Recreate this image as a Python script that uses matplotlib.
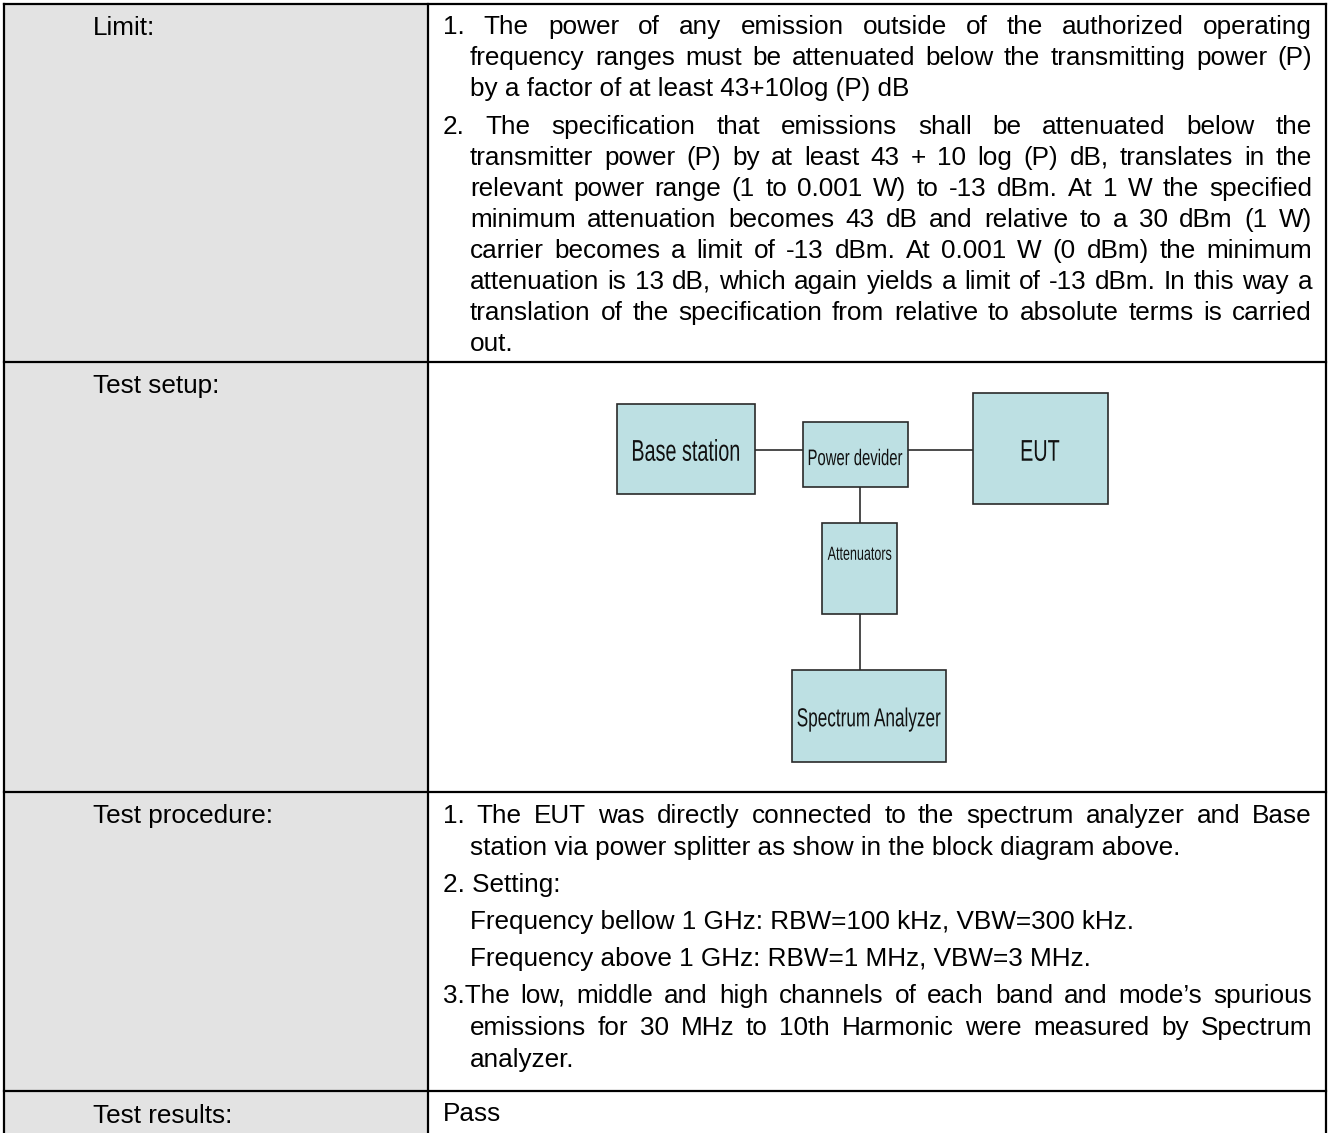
import matplotlib
matplotlib.use('Agg')
from matplotlib import pyplot
from matplotlib.patches import Rectangle, PathPatch
from matplotlib.textpath import TextPath
from matplotlib.font_manager import FontProperties
from matplotlib.transforms import Affine2D

# table content
row_labels = ['Limit:', 'Test setup:', 'Test procedure:', 'Test results:']

limit_paragraphs = [
    [
        '1. The power of any emission outside of the authorized operating',
        'frequency ranges must be attenuated below the transmitting power (P)',
        'by a factor of at least 43+10log (P) dB',
    ],
    [
        '2. The specification that emissions shall be attenuated below the',
        'transmitter power (P) by at least 43 + 10 log (P) dB, translates in the',
        'relevant power range (1 to 0.001 W) to -13 dBm. At 1 W the specified',
        'minimum attenuation becomes 43 dB and relative to a 30 dBm (1 W)',
        'carrier becomes a limit of -13 dBm. At 0.001 W (0 dBm) the minimum',
        'attenuation is 13 dB, which again yields a limit of -13 dBm. In this way a',
        'translation of the specification from relative to absolute terms is carried',
        'out.',
    ],
]

procedure_paragraphs = [
    [
        '1. The EUT was directly connected to the spectrum analyzer and Base',
        'station via power splitter as show in the block diagram above.',
    ],
    ['2. Setting:'],
    ['Frequency bellow 1 GHz: RBW=100 kHz, VBW=300 kHz.'],
    ['Frequency above 1 GHz: RBW=1 MHz, VBW=3 MHz.'],
    [
        '3.The low, middle and high channels of each band and mode\u2019s spurious',
        'emissions for 30 MHz to 10th Harmonic were measured by Spectrum',
        'analyzer.',
    ],
]

result_text = 'Pass'

box_labels = ['Base station', 'Power devider', 'EUT', 'Attenuators', 'Spectrum Analyzer']

# layout (pixels)
W, H = 1330, 1133
FONT = ['Liberation Sans', 'Arial', 'DejaVu Sans']
SIZE = 18.8
GRAY = '#e3e3e3'
BOX_FILL = '#bde0e3'

figure = pyplot.figure(figsize=(W / 100, H / 100), dpi=100)
ax = figure.add_axes([0, 0, 1, 1])
ax.set_xlim(0, W)
ax.set_ylim(H, 0)
ax.axis('off')
renderer = figure.canvas.get_renderer()

left, mid, right = 4, 428, 1326
row_edges = [4, 362, 792, 1091, 1160]

# grey label column
for i in range(4):
    ax.add_patch(Rectangle((left, row_edges[i]), mid - left, row_edges[i + 1] - row_edges[i],
                           facecolor=GRAY, edgecolor='none', zorder=0))

# grid lines
for y in row_edges[:-1]:
    ax.plot([left, right], [y, y], color='black', lw=1.6, solid_capstyle='projecting')
for x in [left, mid, right]:
    ax.plot([x, x], [row_edges[0], H + 5], color='black', lw=1.6, solid_capstyle='projecting')

label_baselines = [35, 393, 823, 1123]
for label, y in zip(row_labels, label_baselines):
    ax.text(93, y, label, fontsize=SIZE, family=FONT, va='baseline', ha='left')


def text_width(s, size=SIZE):
    t = ax.text(0, 0, s, fontsize=size, family=FONT)
    w = t.get_window_extent(renderer).width
    t.remove()
    return w


def draw_line(s, x0, x1, y, justify):
    words = s.split(' ')
    if not justify or len(words) < 2:
        ax.text(x0, y, s, fontsize=SIZE, family=FONT, va='baseline', ha='left')
        return
    widths = [text_width(w) for w in words]
    gap = (x1 - x0 - sum(widths)) / (len(words) - 1)
    x = x0
    for word, w in zip(words, widths):
        ax.text(x, y, word, fontsize=SIZE, family=FONT, va='baseline', ha='left')
        x += w + gap


def draw_paragraphs(paragraphs, y, spacing, para_gap, numbered_list):
    x_num, x_body, x_end = 443, 470, 1312
    for paragraph, numbered in zip(paragraphs, numbered_list):
        for k, line in enumerate(paragraph):
            x0 = x_num if (k == 0 and numbered) else x_body
            last = k == len(paragraph) - 1
            draw_line(line, x0, x_end, y, justify=not last)
            y += spacing
        y += para_gap - spacing


draw_paragraphs(limit_paragraphs, 34, 31, 38, [True, True])
draw_paragraphs(procedure_paragraphs, 823, 32, 37, [True, True, False, False, True])
ax.text(443, 1121, result_text, fontsize=SIZE, family=FONT, va='baseline', ha='left')


# the diagram was stretched vertically, so its lettering is tall and narrow
def narrow_text(cx, cy, s, em, squeeze):
    prop = FontProperties(family='Liberation Sans')
    path = TextPath((0, 0), s, size=em, prop=prop)
    bb = path.get_extents()
    cap = 0.716 * em
    tr = (Affine2D()
          .translate(-(bb.x0 + bb.x1) / 2, -cap / 2)
          .scale(squeeze, -1)
          .translate(cx, cy))
    ax.add_patch(PathPatch(tr.transform_path(path), facecolor='#111111',
                           edgecolor='none', zorder=3))


boxes = [
    (617, 404, 755, 494),
    (803, 422, 908, 487),
    (973, 393, 1108, 504),
    (822, 523, 897, 614),
    (792, 670, 946, 762),
]
box_text_y = [450, 457, 450, 553, 717]
box_text_em = [30, 22.5, 30, 19, 26]
for label, (x0, y0, x1, y1), ty, em in zip(box_labels, boxes, box_text_y, box_text_em):
    ax.add_patch(Rectangle((x0, y0), x1 - x0, y1 - y0, facecolor=BOX_FILL,
                           edgecolor='#2a2a2a', lw=1.2, zorder=2))
    narrow_text((x0 + x1) / 2, ty, label, em, 0.66)

links = [
    ([755, 803], [450, 450]),
    ([908, 973], [450, 450]),
    ([860, 860], [487, 523]),
    ([860, 860], [614, 670]),
]
for xs, ys in links:
    ax.plot(xs, ys, color='#1a1a1a', lw=1.1, zorder=1)

figure.savefig('out.png', dpi=100)
